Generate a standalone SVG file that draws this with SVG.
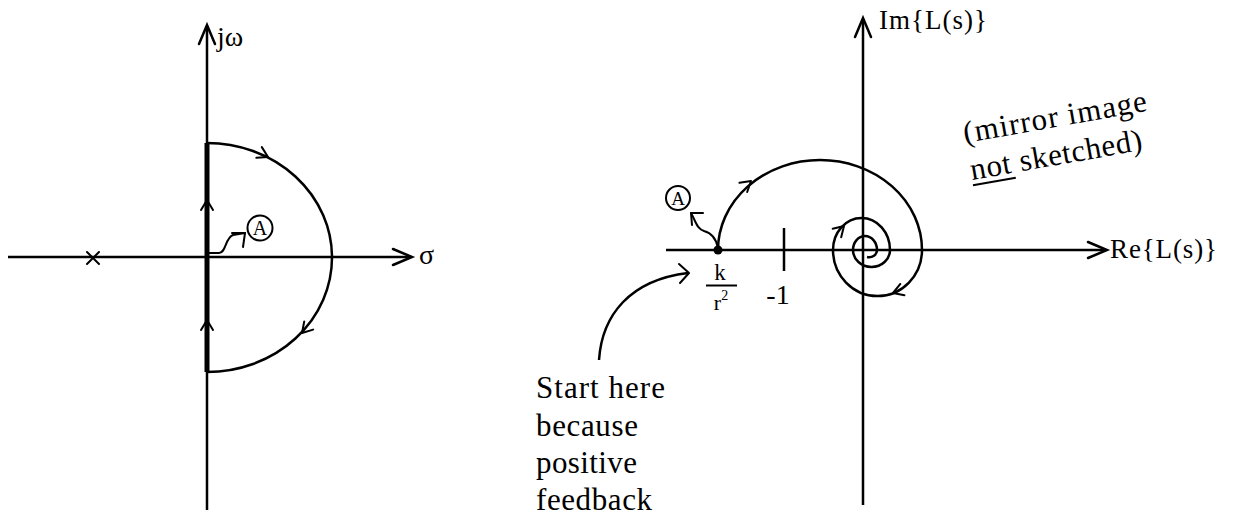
<svg xmlns="http://www.w3.org/2000/svg" width="1233" height="517" viewBox="0 0 1233 517">
<style>
  .ax{stroke:#000;stroke-width:2.5;fill:none;stroke-linecap:butt}
  .cv{stroke:#000;stroke-width:2.5;fill:none}
  .ar{stroke:#000;stroke-width:2;fill:none;stroke-linecap:round;stroke-linejoin:round}
  .hd{stroke:#000;stroke-width:2.5;fill:none;stroke-linecap:round;stroke-linejoin:miter}
  .ring{stroke:#000;stroke-width:2;fill:#fff}
  text{font-family:"Liberation Serif","DejaVu Serif",serif;fill:#000}
</style>
<defs>
  <path id="chev" class="ar" d="M-10,-6 L0,0 L-10,6"/>
  <path id="axhead" class="hd" d="M-19,-8 L0,0 L-19,8"/>
</defs>
<rect width="1233" height="517" fill="#fff"/>

<!-- LEFT: s-plane -->
<g id="s-plane-axes">
  <line class="ax" x1="8" y1="257" x2="411" y2="257"/>
  <use href="#axhead" transform="translate(412,257)"/>
  <line class="ax" x1="207" y1="510" x2="207" y2="26"/>
  <use href="#axhead" transform="translate(207,25) rotate(-90)"/>
</g>
<g id="nyquist-contour">
  <line x1="207" y1="143" x2="207" y2="372" stroke="#000" stroke-width="5"/>
  <path class="cv" d="M207,143 A125,114.5 0 0 1 207,372"/>
  <use href="#chev" transform="translate(268,157) rotate(27)"/>
  <use href="#chev" transform="translate(302,333) rotate(132)"/>
  <use href="#chev" transform="translate(207,200) rotate(-90)"/>
  <use href="#chev" transform="translate(207,320) rotate(-90)"/>
</g>
<g id="pole">
  <path class="ar" d="M87,252 L99,264 M87,264 L99,252"/>
</g>
<g id="label-jw"><text x="217" y="46" font-size="28">jω</text></g>
<g id="label-sigma"><text x="419" y="264" font-size="28">σ</text></g>
<g id="label-A-left">
  <circle class="ring" cx="260" cy="228" r="12.5"/>
  <text x="260" y="235" font-size="20" text-anchor="middle">A</text>
</g>

<!-- RIGHT: L-plane -->
<g id="L-plane-axes">
  <line class="ax" x1="666" y1="250" x2="1106" y2="250"/>
  <use href="#axhead" transform="translate(1107,250)"/>
  <line class="ax" x1="863" y1="505" x2="863" y2="19"/>
  <use href="#axhead" transform="translate(863,18) rotate(-90)"/>
  <line class="ax" x1="784" y1="228" x2="784" y2="271"/>
</g>
<g id="nyquist-plot">
  <path class="cv" d="M718,250 A102,90 0 0 1 922,250 A44.5,46 0 0 1 833,250 A28.5,32 0 0 1 890,250 A18.5,17 0 0 1 853,250 A12,14 0 0 1 877,250 A8,7 0 0 1 867,257"/>
  <circle cx="718" cy="250" r="4.5" fill="#000"/>
  <use href="#chev" transform="translate(751,181) rotate(-40)"/>
  <use href="#chev" transform="translate(893,293) rotate(160)"/>
  <use href="#chev" transform="translate(844,226) rotate(-45)"/>
</g>
<g id="label-k-r2">
  <text x="720" y="280" font-size="23" text-anchor="middle">k</text>
  <line x1="706" y1="285.5" x2="737" y2="285.5" stroke="#000" stroke-width="2"/>
  <text x="721" y="310" font-size="22" text-anchor="middle">r<tspan dy="-10" font-size="14">2</tspan></text>
</g>
<g id="label-minus1"><text x="778" y="304" font-size="28" text-anchor="middle">-1</text></g>
<g id="label-A-right">
  <circle class="ring" cx="678" cy="198" r="12"/>
  <text x="678" y="205" font-size="19" text-anchor="middle">A</text>
</g>
<g id="label-Im"><text x="879" y="29" font-size="27" textLength="108" lengthAdjust="spacing">Im{L(s)}</text></g>
<g id="label-Re"><text x="1110" y="258" font-size="27" textLength="107" lengthAdjust="spacing">Re{L(s)}</text></g>
<g id="note-mirror" transform="translate(965,143) rotate(-10)">
  <text x="0" y="0" font-size="31" textLength="186" lengthAdjust="spacing">(mirror image</text>
  <text x="0.5" y="37.6" font-size="31" textLength="174" lengthAdjust="spacing">not sketched)</text>
  <line x1="0.5" y1="43" x2="44" y2="43" stroke="#000" stroke-width="2"/>
</g>
<g id="note-start">
  <text x="536" y="398" font-size="31" textLength="129" lengthAdjust="spacing">Start here</text>
  <text x="536" y="436" font-size="31" textLength="102" lengthAdjust="spacing">because</text>
  <text x="536" y="473" font-size="31" textLength="101" lengthAdjust="spacing">positive</text>
  <text x="536" y="510" font-size="31" textLength="116" lengthAdjust="spacing">feedback</text>
</g>

<!-- connectors -->
<g id="connectors">
  <path class="ar" d="M208,253 L219,253 C226,253 225,238 233,235 L245,233"/>
  <path class="ar" d="M232,233 L245,233 L243,247"/>
  <path class="ar" d="M718,248 C716,238 712,233 704,231 C697,229 696,222 691,213"/>
  <path class="ar" d="M703,213 L691,213 L692,225"/>
  <path class="cv" d="M599,360 C602,315 630,280 688,273"/>
  <path class="ar" d="M679,264 L689,273 L680,283"/>
</g>
</svg>
